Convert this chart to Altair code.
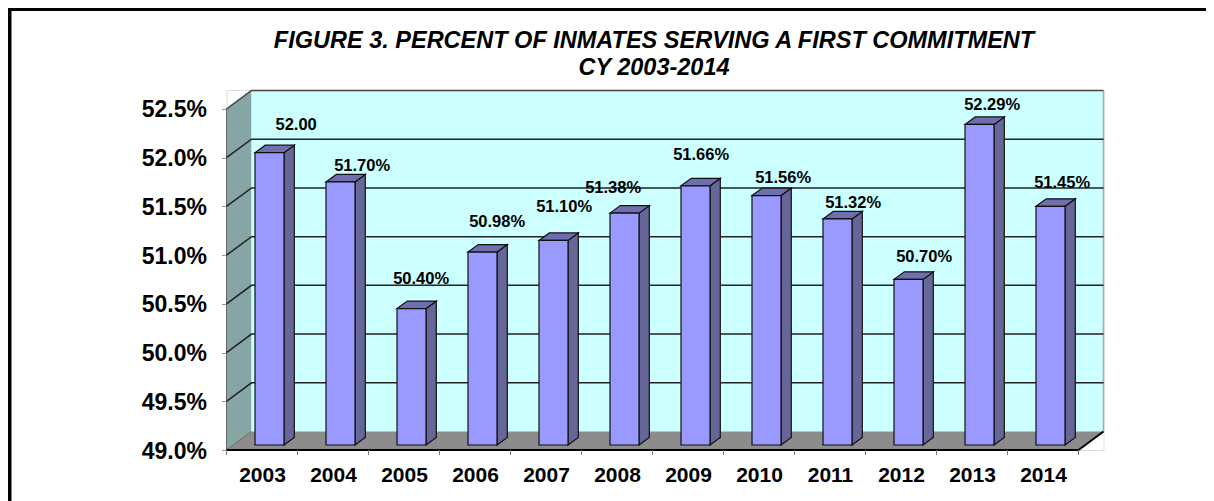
import altair as alt
import pandas as pd

years = [2003, 2004, 2005, 2006, 2007, 2008, 2009, 2010, 2011, 2012, 2013, 2014]
values = [52.00, 51.70, 50.40, 50.98, 51.10, 51.38, 51.66, 51.56, 51.32, 50.70, 52.29, 51.45]
labels = ["52.00", "51.70%", "50.40%", "50.98%", "51.10%", "51.38%",
          "51.66%", "51.56%", "51.32%", "50.70%", "52.29%", "51.45%"]
label_dx = [21.5, 16.5, 4.5, 9.5, 5.5, -16.5, 0.5, 11.5, 10.5, 10.5, 7.5, 6.5]
label_dy = [-28, -16, -30, -30, -33.5, -25, -31, -18, -16, -22, -19.5, -23]
y_ticks = [49.0, 49.5, 50.0, 50.5, 51.0, 51.5, 52.0, 52.5]

FONT = "Liberation Sans"
W, H = 877, 360
CAT_PX = 71.0
UNIT_PX = 97.43
YMIN, YTOP = 49.0, 52.5
DX = 25 / CAT_PX           # wall depth, category units
DY = 18.5 / UNIT_PX        # wall depth, value units
BAR_L = 28.5 / CAT_PX
BAR_W = 29 / CAT_PX
BAR_DX = 10.3 / CAT_PX
BAR_DY = 7.5 / UNIT_PX
BASE = YMIN + 5 / UNIT_PX

xs = alt.Scale(domain=[0, 12 + DX], nice=False, zero=False)
ys = alt.Scale(domain=[YMIN, YMIN + H / UNIT_PX], nice=False, zero=False)
x_axis = alt.Axis(
    values=[i + 0.5 for i in range(12)],
    labelExpr=f"{years}[floor(datum.value)]",
    labelFont=FONT, labelFontSize=21, labelFontWeight="bold", labelColor="black",
    ticks=False, domain=False, grid=False, labelPadding=14, labelOverlap=False, labelFlush=False)
y_axis = alt.Axis(
    values=y_ticks,
    labelExpr="format(datum.value,'.1f')+'%'",
    labelFont=FONT, labelFontSize=23, labelFontWeight="bold", labelColor="black",
    tickColor="#999999", tickSize=5, domain=False, grid=False, labelPadding=15, labelOffset=1,
    labelOverlap=False, labelFlush=False)
X = alt.X("x:Q", scale=xs, axis=x_axis, title=None)
Y = alt.Y("y:Q", scale=ys, axis=y_axis, title=None)
X2 = alt.X2("x2:Q")
Y2 = alt.Y2("y2:Q")

# left wall
wall_left = alt.Chart(pd.DataFrame({
    "x": [0, DX], "y": [YMIN, YMIN + DY], "y2": [YTOP, YTOP + DY]
})).mark_area(color="#86a6a6", stroke="#666666", strokeWidth=1).encode(x=X, y=Y, y2=Y2)

# floor
floor = alt.Chart(pd.DataFrame({
    "x": [0, DX, 12, 12 + DX],
    "y": [YMIN, YMIN + DY, YMIN + DY, YMIN + DY],
    "y2": [YMIN, YMIN, YMIN, YMIN + DY],
})).mark_area(color="#8c8c8c").encode(x=X, y=Y, y2=Y2)

# back wall
wall_back = alt.Chart(pd.DataFrame({
    "x": [DX], "x2": [12 + DX], "y": [YMIN + DY], "y2": [YTOP + DY]
})).mark_rect(color="#ccffff").encode(x=X, x2=X2, y=Y, y2=Y2)

# back wall outline (top dark, right grey)
wall_top = alt.Chart(pd.DataFrame({
    "x": [0, DX, 12 + DX], "y": [YTOP, YTOP + DY, YTOP + DY]
})).mark_line(color="#444444", strokeWidth=1.5).encode(x=X, y=Y)
wall_right = alt.Chart(pd.DataFrame({
    "x": [12 + DX, 12 + DX], "y": [YMIN + DY, YTOP + DY]
})).mark_line(color="#aaaaaa", strokeWidth=1.5).encode(x=X, y=Y)
wall_inner = alt.Chart(pd.DataFrame({
    "x": [DX, DX], "y": [YMIN + DY, YTOP + DY]
})).mark_line(color="#dddddd", strokeWidth=1).encode(x=X, y=Y)

# gridlines: wall diagonal plus back wall
grid_rows = []
for v in y_ticks[1:-1]:
    grid_rows += [{"x": 0, "y": v, "v": v},
                  {"x": DX, "y": v + DY, "v": v},
                  {"x": 12 + DX, "y": v + DY, "v": v}]
grid = alt.Chart(pd.DataFrame(grid_rows)).mark_line(color="#222222", strokeWidth=1.5).encode(
    x=X, y=Y, detail="v:N")

# front floor edge and right floor edge
edge = alt.Chart(pd.DataFrame({
    "x": [0, 12, 12 + DX], "y": [YMIN, YMIN, YMIN + DY]
})).mark_line(color="black", strokeWidth=2).encode(x=X, y=Y)

# x ticks below floor
ticks = alt.Chart(pd.DataFrame({
    "x": list(range(13)), "y": [YMIN] * 13, "y2": [YMIN - 5 / UNIT_PX] * 13
})).mark_rule(color="#777777", strokeWidth=1, clip=False).encode(x=X, y=Y, y2=Y2)

front_rows, side_rows, top_rows, lab_rows = [], [], [], []
for i, (yr, v, t, ldx, ldy) in enumerate(zip(years, values, labels, label_dx, label_dy)):
    x0 = i + BAR_L
    x1 = x0 + BAR_W
    top = v + (BASE - YMIN)
    front_rows.append({"x": x0, "x2": x1, "y": BASE, "y2": top})
    side_rows += [{"x": x1, "y": BASE, "y2": top, "yr": yr},
                  {"x": x1 + BAR_DX, "y": BASE + BAR_DY, "y2": top + BAR_DY, "yr": yr}]
    top_rows += [{"x": x0, "y": top, "y2": top, "yr": yr},
                 {"x": x0 + BAR_DX, "y": top + BAR_DY, "y2": top, "yr": yr},
                 {"x": x1, "y": top + BAR_DY, "y2": top, "yr": yr},
                 {"x": x1 + BAR_DX, "y": top + BAR_DY, "y2": top + BAR_DY, "yr": yr}]
    lab_rows.append({"x": i + BAR_L + (BAR_W + BAR_DX) / 2 + ldx / CAT_PX,
                     "y": top - ldy / UNIT_PX, "t": t})

STROKE = dict(stroke="#111111", strokeWidth=1.2)
bar_side = alt.Chart(pd.DataFrame(side_rows)).mark_area(color="#666699", **STROKE).encode(
    x=X, y=Y, y2=Y2, detail="yr:N")
bar_top = alt.Chart(pd.DataFrame(top_rows)).mark_area(color="#6f6fb0", **STROKE).encode(
    x=X, y=Y, y2=Y2, detail="yr:N")
bar_front = alt.Chart(pd.DataFrame(front_rows)).mark_rect(color="#9999ff", **STROKE).encode(
    x=X, x2=X2, y=Y, y2=Y2)

text = alt.Chart(pd.DataFrame(lab_rows)).mark_text(
    font=FONT, fontSize=16.5, fontWeight="bold", color="black", baseline="middle", clip=False
).encode(x=X, y=Y, text="t:N")

# outer frame: top and left only
frame_top = alt.Chart(pd.DataFrame({"a": [0]})).mark_rule(color="black", strokeWidth=4).encode(
    x=alt.value(-218.5), x2=alt.value(W + 102.5), y=alt.value(-81))
frame_left = alt.Chart(pd.DataFrame({"a": [0]})).mark_rule(color="black", strokeWidth=4).encode(
    x=alt.value(-217), y=alt.value(-82), y2=alt.value(H + 51))

chart = alt.layer(
    frame_top, frame_left, wall_back, floor, wall_left, wall_inner, wall_right,
    grid, wall_top, edge, ticks, bar_side, bar_top, bar_front, text
).properties(
    width=W, height=H,
    padding={"left": 218.5, "top": 82, "right": 102.5, "bottom": 51},
    autosize=alt.AutoSizeParams(type="none"),
    title=alt.TitleParams(
        text=["FIGURE 3. PERCENT OF INMATES SERVING A FIRST COMMITMENT", "CY 2003-2014"],
        anchor="middle", frame="group", dx=-11, offset=-73, font=FONT, fontSize=23.5, fontWeight="bold",
        fontStyle="italic", lineHeight=27, color="black"),
).configure_view(stroke=None).configure(background="white")

chart.save("out.html", embed_options={"renderer": "svg", "actions": False})
